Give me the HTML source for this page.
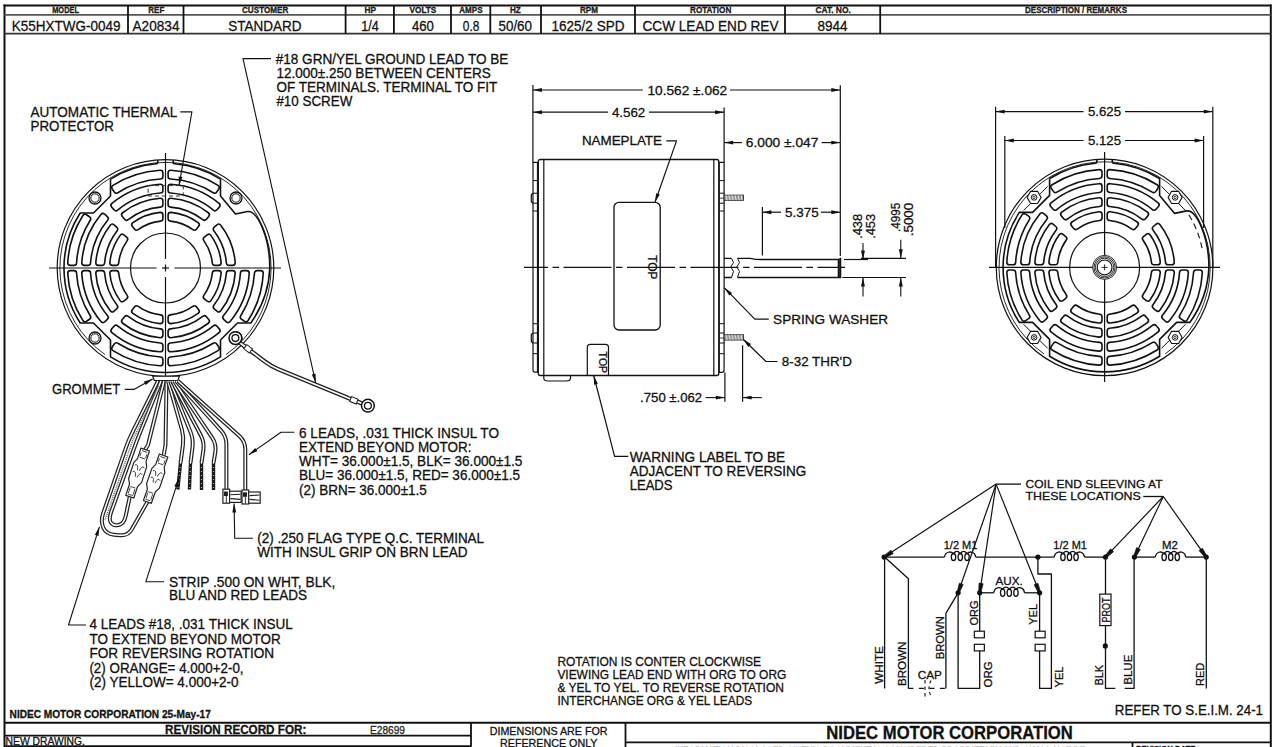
<!DOCTYPE html>
<html><head><meta charset="utf-8"><style>
html,body{margin:0;padding:0;background:#fff;width:1280px;height:747px;overflow:hidden}
svg{display:block}
text{font-family:"Liberation Sans",sans-serif;stroke:#111;stroke-width:0.3px}
</style></head><body>
<svg width="1280" height="747" viewBox="0 0 1280 747">
<rect x="0" y="0" width="1280" height="747" fill="#fff"/>
<line x1="3.50" y1="5.50" x2="1271.50" y2="5.50" stroke="#111" stroke-width="2.0" />
<line x1="4.50" y1="4.50" x2="4.50" y2="747.00" stroke="#111" stroke-width="2.0" />
<line x1="1270.80" y1="4.50" x2="1270.80" y2="747.00" stroke="#111" stroke-width="2.0" />
<line x1="4.50" y1="14.90" x2="1270.80" y2="14.90" stroke="#555" stroke-width="1.6" />
<line x1="4.50" y1="33.70" x2="1270.80" y2="33.70" stroke="#333" stroke-width="1.8" />
<line x1="128.00" y1="5.50" x2="128.00" y2="33.70" stroke="#111" stroke-width="1.8" />
<line x1="183.50" y1="5.50" x2="183.50" y2="33.70" stroke="#111" stroke-width="1.8" />
<line x1="345.60" y1="5.50" x2="345.60" y2="33.70" stroke="#111" stroke-width="1.8" />
<line x1="393.90" y1="5.50" x2="393.90" y2="33.70" stroke="#111" stroke-width="1.8" />
<line x1="451.00" y1="5.50" x2="451.00" y2="33.70" stroke="#111" stroke-width="1.8" />
<line x1="490.30" y1="5.50" x2="490.30" y2="33.70" stroke="#111" stroke-width="1.8" />
<line x1="541.00" y1="5.50" x2="541.00" y2="33.70" stroke="#111" stroke-width="1.8" />
<line x1="635.00" y1="5.50" x2="635.00" y2="33.70" stroke="#111" stroke-width="1.8" />
<line x1="785.00" y1="5.50" x2="785.00" y2="33.70" stroke="#111" stroke-width="1.8" />
<line x1="880.20" y1="5.50" x2="880.20" y2="33.70" stroke="#111" stroke-width="1.8" />
<text x="52.20" y="13.10" font-size="9.2" font-weight="bold" fill="#222" textLength="26.80" lengthAdjust="spacingAndGlyphs" >MODEL</text>
<text x="148.30" y="13.10" font-size="9.2" font-weight="bold" fill="#222" textLength="16.00" lengthAdjust="spacingAndGlyphs" >REF</text>
<text x="242.00" y="13.10" font-size="9.2" font-weight="bold" fill="#222" textLength="46.30" lengthAdjust="spacingAndGlyphs" >CUSTOMER</text>
<text x="364.50" y="13.10" font-size="9.2" font-weight="bold" fill="#222" textLength="11.50" lengthAdjust="spacingAndGlyphs" >HP</text>
<text x="409.50" y="13.10" font-size="9.2" font-weight="bold" fill="#222" textLength="26.80" lengthAdjust="spacingAndGlyphs" >VOLTS</text>
<text x="459.30" y="13.10" font-size="9.2" font-weight="bold" fill="#222" textLength="23.20" lengthAdjust="spacingAndGlyphs" >AMPS</text>
<text x="510.00" y="13.10" font-size="9.2" font-weight="bold" fill="#222" textLength="10.80" lengthAdjust="spacingAndGlyphs" >HZ</text>
<text x="580.00" y="13.10" font-size="9.2" font-weight="bold" fill="#222" textLength="18.00" lengthAdjust="spacingAndGlyphs" >RPM</text>
<text x="690.00" y="13.10" font-size="9.2" font-weight="bold" fill="#222" textLength="41.30" lengthAdjust="spacingAndGlyphs" >ROTATION</text>
<text x="815.50" y="13.10" font-size="9.2" font-weight="bold" fill="#222" textLength="35.30" lengthAdjust="spacingAndGlyphs" >CAT. NO.</text>
<text x="1025.00" y="13.10" font-size="9.2" font-weight="bold" fill="#222" textLength="102.00" lengthAdjust="spacingAndGlyphs" >DESCRIPTION / REMARKS</text>
<text x="11.80" y="30.60" font-size="15.5" font-weight="normal" fill="#111" textLength="108.70" lengthAdjust="spacingAndGlyphs" >K55HXTWG-0049</text>
<text x="132.50" y="30.60" font-size="15.5" font-weight="normal" fill="#111" textLength="47.00" lengthAdjust="spacingAndGlyphs" >A20834</text>
<text x="228.20" y="30.60" font-size="15.5" font-weight="normal" fill="#111" textLength="73.30" lengthAdjust="spacingAndGlyphs" >STANDARD</text>
<text x="361.30" y="30.60" font-size="15.5" font-weight="normal" fill="#111" textLength="17.50" lengthAdjust="spacingAndGlyphs" >1/4</text>
<text x="411.90" y="30.60" font-size="15.5" font-weight="normal" fill="#111" textLength="21.90" lengthAdjust="spacingAndGlyphs" >460</text>
<text x="462.80" y="30.60" font-size="15.5" font-weight="normal" fill="#111" textLength="16.60" lengthAdjust="spacingAndGlyphs" >0.8</text>
<text x="498.50" y="30.60" font-size="15.5" font-weight="normal" fill="#111" textLength="33.50" lengthAdjust="spacingAndGlyphs" >50/60</text>
<text x="551.50" y="30.60" font-size="15.5" font-weight="normal" fill="#111" textLength="73.00" lengthAdjust="spacingAndGlyphs" >1625/2 SPD</text>
<text x="642.50" y="30.60" font-size="15.5" font-weight="normal" fill="#111" textLength="136.00" lengthAdjust="spacingAndGlyphs" >CCW LEAD END REV</text>
<text x="817.50" y="30.60" font-size="15.5" font-weight="normal" fill="#111" textLength="30.00" lengthAdjust="spacingAndGlyphs" >8944</text>
<text x="9.60" y="717.80" font-size="10.8" font-weight="bold" fill="#111" textLength="201.20" lengthAdjust="spacingAndGlyphs" >NIDEC MOTOR CORPORATION 25-May-17</text>
<line x1="4.50" y1="722.70" x2="1270.80" y2="722.70" stroke="#111" stroke-width="2.0" />
<line x1="4.50" y1="735.60" x2="471.00" y2="735.60" stroke="#111" stroke-width="1.8" />
<line x1="4.50" y1="746.20" x2="471.00" y2="746.20" stroke="#111" stroke-width="1.8" />
<line x1="471.00" y1="722.70" x2="471.00" y2="747.00" stroke="#111" stroke-width="1.8" />
<line x1="625.50" y1="722.70" x2="625.50" y2="747.00" stroke="#111" stroke-width="1.8" />
<line x1="625.50" y1="742.30" x2="1270.80" y2="742.30" stroke="#111" stroke-width="1.8" />
<line x1="1132.50" y1="742.30" x2="1132.50" y2="747.00" stroke="#111" stroke-width="1.8" />
<text x="165.00" y="733.80" font-size="12.5" font-weight="bold" fill="#111" textLength="141.30" lengthAdjust="spacingAndGlyphs" >REVISION RECORD FOR:</text>
<text x="370.00" y="733.80" font-size="11" font-weight="normal" fill="#333" textLength="35.00" lengthAdjust="spacingAndGlyphs" >E28699</text>
<text x="5.60" y="744.50" font-size="10.8" font-weight="normal" fill="#111" textLength="79.40" lengthAdjust="spacingAndGlyphs" >NEW DRAWING.</text>
<text x="489.70" y="734.70" font-size="11.5" font-weight="normal" fill="#111" textLength="117.90" lengthAdjust="spacingAndGlyphs" >DIMENSIONS ARE FOR</text>
<text x="500.00" y="746.80" font-size="11.5" font-weight="normal" fill="#111" textLength="97.50" lengthAdjust="spacingAndGlyphs" >REFERENCE ONLY</text>
<text x="826.30" y="738.80" font-size="17.8" font-weight="bold" fill="#111" textLength="246.50" lengthAdjust="spacingAndGlyphs" >NIDEC MOTOR CORPORATION</text>
<text x="1114.80" y="715.20" font-size="14" font-weight="normal" fill="#111" textLength="148.20" lengthAdjust="spacingAndGlyphs" >REFER TO S.E.I.M. 24-1</text>
<text x="675.00" y="753.00" font-size="9" font-weight="bold" fill="#333" textLength="410.00" lengthAdjust="spacingAndGlyphs" >INFORMATION DISCLOSED ON THIS DOCUMENT IS CONSIDERED PROPRIETARY AND SHALL NOT BE</text>
<text x="1136.00" y="751.50" font-size="9" font-weight="bold" fill="#111" textLength="64.00" lengthAdjust="spacingAndGlyphs" >REVISION DATE :</text>
<text x="275.70" y="63.80" font-size="14.2" font-weight="normal" fill="#111" textLength="232.70" lengthAdjust="spacingAndGlyphs" >#18 GRN/YEL GROUND LEAD TO BE</text>
<text x="276.40" y="78.00" font-size="14.2" font-weight="normal" fill="#111" textLength="214.40" lengthAdjust="spacingAndGlyphs" >12.000±.250 BETWEEN CENTERS</text>
<text x="276.40" y="92.20" font-size="14.2" font-weight="normal" fill="#111" textLength="220.80" lengthAdjust="spacingAndGlyphs" >OF TERMINALS. TERMINAL TO FIT</text>
<text x="276.40" y="106.40" font-size="14.2" font-weight="normal" fill="#111" textLength="75.90" lengthAdjust="spacingAndGlyphs" >#10 SCREW</text>
<text x="30.50" y="116.80" font-size="14.2" font-weight="normal" fill="#111" textLength="146.70" lengthAdjust="spacingAndGlyphs" >AUTOMATIC THERMAL</text>
<text x="30.50" y="130.90" font-size="14.2" font-weight="normal" fill="#111" textLength="83.50" lengthAdjust="spacingAndGlyphs" >PROTECTOR</text>
<text x="52.00" y="394.00" font-size="14.2" font-weight="normal" fill="#111" textLength="68.30" lengthAdjust="spacingAndGlyphs" >GROMMET</text>
<text x="299.00" y="438.30" font-size="14.2" font-weight="normal" fill="#111" textLength="200.00" lengthAdjust="spacingAndGlyphs" >6 LEADS, .031 THICK INSUL TO</text>
<text x="299.00" y="452.00" font-size="14.2" font-weight="normal" fill="#111" textLength="172.50" lengthAdjust="spacingAndGlyphs" >EXTEND BEYOND MOTOR:</text>
<text x="299.00" y="466.00" font-size="14.2" font-weight="normal" fill="#111" textLength="223.40" lengthAdjust="spacingAndGlyphs" >WHT= 36.000±1.5, BLK= 36.000±1.5</text>
<text x="299.00" y="480.00" font-size="14.2" font-weight="normal" fill="#111" textLength="221.00" lengthAdjust="spacingAndGlyphs" >BLU= 36.000±1.5, RED= 36.000±1.5</text>
<text x="299.00" y="494.50" font-size="14.2" font-weight="normal" fill="#111" textLength="127.80" lengthAdjust="spacingAndGlyphs" >(2) BRN= 36.000±1.5</text>
<text x="257.20" y="542.50" font-size="14.2" font-weight="normal" fill="#111" textLength="226.90" lengthAdjust="spacingAndGlyphs" >(2) .250 FLAG TYPE Q.C. TERMINAL</text>
<text x="257.20" y="556.70" font-size="14.2" font-weight="normal" fill="#111" textLength="210.50" lengthAdjust="spacingAndGlyphs" >WITH INSUL GRIP ON BRN LEAD</text>
<text x="169.00" y="586.50" font-size="14.2" font-weight="normal" fill="#111" textLength="166.30" lengthAdjust="spacingAndGlyphs" >STRIP .500 ON WHT, BLK,</text>
<text x="169.00" y="600.40" font-size="14.2" font-weight="normal" fill="#111" textLength="138.00" lengthAdjust="spacingAndGlyphs" >BLU AND RED LEADS</text>
<text x="89.40" y="629.00" font-size="14.2" font-weight="normal" fill="#111" textLength="203.40" lengthAdjust="spacingAndGlyphs" >4 LEADS #18, .031 THICK INSUL</text>
<text x="89.40" y="643.80" font-size="14.2" font-weight="normal" fill="#111" textLength="191.40" lengthAdjust="spacingAndGlyphs" >TO EXTEND BEYOND MOTOR</text>
<text x="89.40" y="658.20" font-size="14.2" font-weight="normal" fill="#111" textLength="184.80" lengthAdjust="spacingAndGlyphs" >FOR REVERSING ROTATION</text>
<text x="89.40" y="672.60" font-size="14.2" font-weight="normal" fill="#111" textLength="154.20" lengthAdjust="spacingAndGlyphs" >(2) ORANGE= 4.000+2-0,</text>
<text x="89.40" y="687.00" font-size="14.2" font-weight="normal" fill="#111" textLength="149.20" lengthAdjust="spacingAndGlyphs" >(2) YELLOW= 4.000+2-0</text>
<text x="629.70" y="461.70" font-size="14.2" font-weight="normal" fill="#111" textLength="155.40" lengthAdjust="spacingAndGlyphs" >WARNING LABEL TO BE</text>
<text x="629.70" y="476.10" font-size="14.2" font-weight="normal" fill="#111" textLength="176.60" lengthAdjust="spacingAndGlyphs" >ADJACENT TO REVERSING</text>
<text x="629.70" y="490.40" font-size="14.2" font-weight="normal" fill="#111" textLength="42.80" lengthAdjust="spacingAndGlyphs" >LEADS</text>
<text x="557.40" y="665.60" font-size="12.6" font-weight="normal" fill="#111" textLength="203.60" lengthAdjust="spacingAndGlyphs" >ROTATION IS CONTER CLOCKWISE</text>
<text x="557.40" y="678.80" font-size="12.6" font-weight="normal" fill="#111" textLength="228.90" lengthAdjust="spacingAndGlyphs" >VIEWING LEAD END WITH ORG TO ORG</text>
<text x="557.40" y="692.00" font-size="12.6" font-weight="normal" fill="#111" textLength="226.60" lengthAdjust="spacingAndGlyphs" >&amp; YEL TO YEL. TO REVERSE ROTATION</text>
<text x="557.40" y="705.20" font-size="12.6" font-weight="normal" fill="#111" textLength="194.70" lengthAdjust="spacingAndGlyphs" >INTERCHANGE ORG &amp; YEL LEADS</text>
<text x="647.50" y="95.00" font-size="13.4" font-weight="normal" fill="#111" textLength="79.70" lengthAdjust="spacingAndGlyphs" >10.562 ±.062</text>
<text x="611.90" y="116.90" font-size="13.4" font-weight="normal" fill="#111" textLength="33.40" lengthAdjust="spacingAndGlyphs" >4.562</text>
<text x="581.90" y="145.00" font-size="13.4" font-weight="normal" fill="#111" textLength="80.10" lengthAdjust="spacingAndGlyphs" >NAMEPLATE</text>
<text x="745.80" y="147.30" font-size="13.4" font-weight="normal" fill="#111" textLength="72.60" lengthAdjust="spacingAndGlyphs" >6.000 ±.047</text>
<text x="785.10" y="216.50" font-size="13.4" font-weight="normal" fill="#111" textLength="33.50" lengthAdjust="spacingAndGlyphs" >5.375</text>
<text x="773.10" y="324.00" font-size="13.4" font-weight="normal" fill="#111" textLength="114.90" lengthAdjust="spacingAndGlyphs" >SPRING WASHER</text>
<text x="781.80" y="366.20" font-size="13.4" font-weight="normal" fill="#111" textLength="70.00" lengthAdjust="spacingAndGlyphs" >8-32 THR'D</text>
<text x="640.10" y="402.40" font-size="13.4" font-weight="normal" fill="#111" textLength="62.10" lengthAdjust="spacingAndGlyphs" >.750 ±.062</text>
<text x="1088.00" y="116.10" font-size="13.4" font-weight="normal" fill="#111" textLength="33.00" lengthAdjust="spacingAndGlyphs" >5.625</text>
<text x="1088.00" y="145.40" font-size="13.4" font-weight="normal" fill="#111" textLength="33.00" lengthAdjust="spacingAndGlyphs" >5.125</text>
<text transform="translate(862.10,238.80) rotate(-90)" x="0" y="0" font-size="13.4" font-weight="normal" fill="#111" textLength="24.90" lengthAdjust="spacingAndGlyphs">.438</text>
<text transform="translate(875.00,238.80) rotate(-90)" x="0" y="0" font-size="13.4" font-weight="normal" fill="#111" textLength="24.90" lengthAdjust="spacingAndGlyphs">.453</text>
<text transform="translate(900.00,232.00) rotate(-90)" x="0" y="0" font-size="13.4" font-weight="normal" fill="#111" textLength="29.30" lengthAdjust="spacingAndGlyphs">.4995</text>
<text transform="translate(912.80,236.30) rotate(-90)" x="0" y="0" font-size="13.4" font-weight="normal" fill="#111" textLength="33.60" lengthAdjust="spacingAndGlyphs">.5000</text>
<circle cx="165.50" cy="268.00" r="108.30" fill="none" stroke="#111" stroke-width="1.2" />
<path d="M110.50,179.14 A104.5,104.5 0 0 1 156.30,163.78 Q157.80,163.78 157.80,161.78 L157.80,160.27 M173.20,160.27 L173.20,161.78 Q173.20,163.78 174.70,163.78 A104.5,104.5 0 0 1 220.50,179.14 L220.50,196.00 L235.50,214.00 L247.50,211.50 C257.50,210.00 270.00,238.00 269.80,268.00 A101.5,101.5 0 0 1 250.81,323.00 L237.50,323.00 L220.50,340.00 L220.50,356.86 A104.5,104.5 0 0 1 110.50,356.86 L110.50,340.00 L93.50,323.00 L80.19,323.00 A101.5,101.5 0 0 1 80.19,213.00 L93.50,213.00 L110.50,196.00 L110.50,179.14" fill="none" stroke="#111" stroke-width="1.6" stroke-linejoin="round" />
<path d="M104.93,354.50 A105.6,105.6 0 1 1 226.07,354.50" fill="none" stroke="#111" stroke-width="0.9"/>
<path d="M170.70,172.84 A95.30,95.30 0 0 1 216.62,187.57 L214.60,190.55 A91.70,91.70 0 0 0 170.70,176.45 Z" fill="#fff" stroke="#111" stroke-width="6.8" stroke-linejoin="round"/>
<path d="M170.70,172.84 A95.30,95.30 0 0 1 216.62,187.57 L214.60,190.55 A91.70,91.70 0 0 0 170.70,176.45 Z" fill="#fff" stroke="#fff" stroke-width="3.6" stroke-linejoin="round"/>
<path d="M170.70,186.87 A81.30,81.30 0 0 1 217.40,205.42 L215.01,208.12 A77.70,77.70 0 0 0 170.70,190.47 Z" fill="#fff" stroke="#111" stroke-width="6.8" stroke-linejoin="round"/>
<path d="M170.70,186.87 A81.30,81.30 0 0 1 217.40,205.42 L215.01,208.12 A77.70,77.70 0 0 0 170.70,190.47 Z" fill="#fff" stroke="#fff" stroke-width="3.6" stroke-linejoin="round"/>
<path d="M170.70,200.90 A67.30,67.30 0 0 1 206.74,214.81 L204.42,217.57 A63.70,63.70 0 0 0 170.70,204.51 Z" fill="#fff" stroke="#111" stroke-width="6.8" stroke-linejoin="round"/>
<path d="M170.70,200.90 A67.30,67.30 0 0 1 206.74,214.81 L204.42,217.57 A63.70,63.70 0 0 0 170.70,204.51 Z" fill="#fff" stroke="#fff" stroke-width="3.6" stroke-linejoin="round"/>
<path d="M170.70,214.95 A53.30,53.30 0 0 1 196.61,224.72 L194.36,227.54 A49.70,49.70 0 0 0 170.70,218.57 Z" fill="#fff" stroke="#111" stroke-width="6.8" stroke-linejoin="round"/>
<path d="M170.70,214.95 A53.30,53.30 0 0 1 196.61,224.72 L194.36,227.54 A49.70,49.70 0 0 0 170.70,218.57 Z" fill="#fff" stroke="#fff" stroke-width="3.6" stroke-linejoin="round"/>
<path d="M160.30,172.84 A95.30,95.30 0 0 0 114.38,187.57 L116.40,190.55 A91.70,91.70 0 0 1 160.30,176.45 Z" fill="#fff" stroke="#111" stroke-width="6.8" stroke-linejoin="round"/>
<path d="M160.30,172.84 A95.30,95.30 0 0 0 114.38,187.57 L116.40,190.55 A91.70,91.70 0 0 1 160.30,176.45 Z" fill="#fff" stroke="#fff" stroke-width="3.6" stroke-linejoin="round"/>
<path d="M160.30,186.87 A81.30,81.30 0 0 0 113.60,205.42 L115.99,208.12 A77.70,77.70 0 0 1 160.30,190.47 Z" fill="#fff" stroke="#111" stroke-width="6.8" stroke-linejoin="round"/>
<path d="M160.30,186.87 A81.30,81.30 0 0 0 113.60,205.42 L115.99,208.12 A77.70,77.70 0 0 1 160.30,190.47 Z" fill="#fff" stroke="#fff" stroke-width="3.6" stroke-linejoin="round"/>
<path d="M160.30,200.90 A67.30,67.30 0 0 0 124.26,214.81 L126.58,217.57 A63.70,63.70 0 0 1 160.30,204.51 Z" fill="#fff" stroke="#111" stroke-width="6.8" stroke-linejoin="round"/>
<path d="M160.30,200.90 A67.30,67.30 0 0 0 124.26,214.81 L126.58,217.57 A63.70,63.70 0 0 1 160.30,204.51 Z" fill="#fff" stroke="#fff" stroke-width="3.6" stroke-linejoin="round"/>
<path d="M160.30,214.95 A53.30,53.30 0 0 0 134.39,224.72 L136.64,227.54 A49.70,49.70 0 0 1 160.30,218.57 Z" fill="#fff" stroke="#111" stroke-width="6.8" stroke-linejoin="round"/>
<path d="M160.30,214.95 A53.30,53.30 0 0 0 134.39,224.72 L136.64,227.54 A49.70,49.70 0 0 1 160.30,218.57 Z" fill="#fff" stroke="#fff" stroke-width="3.6" stroke-linejoin="round"/>
<path d="M70.34,262.80 A95.30,95.30 0 0 1 85.07,216.88 L88.05,218.90 A91.70,91.70 0 0 0 73.95,262.80 Z" fill="#fff" stroke="#111" stroke-width="6.8" stroke-linejoin="round"/>
<path d="M70.34,262.80 A95.30,95.30 0 0 1 85.07,216.88 L88.05,218.90 A91.70,91.70 0 0 0 73.95,262.80 Z" fill="#fff" stroke="#fff" stroke-width="3.6" stroke-linejoin="round"/>
<path d="M84.37,262.80 A81.30,81.30 0 0 1 102.92,216.10 L105.62,218.49 A77.70,77.70 0 0 0 87.97,262.80 Z" fill="#fff" stroke="#111" stroke-width="6.8" stroke-linejoin="round"/>
<path d="M84.37,262.80 A81.30,81.30 0 0 1 102.92,216.10 L105.62,218.49 A77.70,77.70 0 0 0 87.97,262.80 Z" fill="#fff" stroke="#fff" stroke-width="3.6" stroke-linejoin="round"/>
<path d="M98.40,262.80 A67.30,67.30 0 0 1 112.31,226.76 L115.07,229.08 A63.70,63.70 0 0 0 102.01,262.80 Z" fill="#fff" stroke="#111" stroke-width="6.8" stroke-linejoin="round"/>
<path d="M98.40,262.80 A67.30,67.30 0 0 1 112.31,226.76 L115.07,229.08 A63.70,63.70 0 0 0 102.01,262.80 Z" fill="#fff" stroke="#fff" stroke-width="3.6" stroke-linejoin="round"/>
<path d="M112.45,262.80 A53.30,53.30 0 0 1 122.22,236.89 L125.04,239.14 A49.70,49.70 0 0 0 116.07,262.80 Z" fill="#fff" stroke="#111" stroke-width="6.8" stroke-linejoin="round"/>
<path d="M112.45,262.80 A53.30,53.30 0 0 1 122.22,236.89 L125.04,239.14 A49.70,49.70 0 0 0 116.07,262.80 Z" fill="#fff" stroke="#fff" stroke-width="3.6" stroke-linejoin="round"/>
<path d="M70.34,273.20 A95.30,95.30 0 0 0 85.07,319.12 L88.05,317.10 A91.70,91.70 0 0 1 73.95,273.20 Z" fill="#fff" stroke="#111" stroke-width="6.8" stroke-linejoin="round"/>
<path d="M70.34,273.20 A95.30,95.30 0 0 0 85.07,319.12 L88.05,317.10 A91.70,91.70 0 0 1 73.95,273.20 Z" fill="#fff" stroke="#fff" stroke-width="3.6" stroke-linejoin="round"/>
<path d="M84.37,273.20 A81.30,81.30 0 0 0 102.92,319.90 L105.62,317.51 A77.70,77.70 0 0 1 87.97,273.20 Z" fill="#fff" stroke="#111" stroke-width="6.8" stroke-linejoin="round"/>
<path d="M84.37,273.20 A81.30,81.30 0 0 0 102.92,319.90 L105.62,317.51 A77.70,77.70 0 0 1 87.97,273.20 Z" fill="#fff" stroke="#fff" stroke-width="3.6" stroke-linejoin="round"/>
<path d="M98.40,273.20 A67.30,67.30 0 0 0 112.31,309.24 L115.07,306.92 A63.70,63.70 0 0 1 102.01,273.20 Z" fill="#fff" stroke="#111" stroke-width="6.8" stroke-linejoin="round"/>
<path d="M98.40,273.20 A67.30,67.30 0 0 0 112.31,309.24 L115.07,306.92 A63.70,63.70 0 0 1 102.01,273.20 Z" fill="#fff" stroke="#fff" stroke-width="3.6" stroke-linejoin="round"/>
<path d="M112.45,273.20 A53.30,53.30 0 0 0 122.22,299.11 L125.04,296.86 A49.70,49.70 0 0 1 116.07,273.20 Z" fill="#fff" stroke="#111" stroke-width="6.8" stroke-linejoin="round"/>
<path d="M112.45,273.20 A53.30,53.30 0 0 0 122.22,299.11 L125.04,296.86 A49.70,49.70 0 0 1 116.07,273.20 Z" fill="#fff" stroke="#fff" stroke-width="3.6" stroke-linejoin="round"/>
<path d="M160.30,363.16 A95.30,95.30 0 0 1 114.38,348.43 L116.40,345.45 A91.70,91.70 0 0 0 160.30,359.55 Z" fill="#fff" stroke="#111" stroke-width="6.8" stroke-linejoin="round"/>
<path d="M160.30,363.16 A95.30,95.30 0 0 1 114.38,348.43 L116.40,345.45 A91.70,91.70 0 0 0 160.30,359.55 Z" fill="#fff" stroke="#fff" stroke-width="3.6" stroke-linejoin="round"/>
<path d="M160.30,349.13 A81.30,81.30 0 0 1 113.60,330.58 L115.99,327.88 A77.70,77.70 0 0 0 160.30,345.53 Z" fill="#fff" stroke="#111" stroke-width="6.8" stroke-linejoin="round"/>
<path d="M160.30,349.13 A81.30,81.30 0 0 1 113.60,330.58 L115.99,327.88 A77.70,77.70 0 0 0 160.30,345.53 Z" fill="#fff" stroke="#fff" stroke-width="3.6" stroke-linejoin="round"/>
<path d="M160.30,335.10 A67.30,67.30 0 0 1 124.26,321.19 L126.58,318.43 A63.70,63.70 0 0 0 160.30,331.49 Z" fill="#fff" stroke="#111" stroke-width="6.8" stroke-linejoin="round"/>
<path d="M160.30,335.10 A67.30,67.30 0 0 1 124.26,321.19 L126.58,318.43 A63.70,63.70 0 0 0 160.30,331.49 Z" fill="#fff" stroke="#fff" stroke-width="3.6" stroke-linejoin="round"/>
<path d="M160.30,321.05 A53.30,53.30 0 0 1 134.39,311.28 L136.64,308.46 A49.70,49.70 0 0 0 160.30,317.43 Z" fill="#fff" stroke="#111" stroke-width="6.8" stroke-linejoin="round"/>
<path d="M160.30,321.05 A53.30,53.30 0 0 1 134.39,311.28 L136.64,308.46 A49.70,49.70 0 0 0 160.30,317.43 Z" fill="#fff" stroke="#fff" stroke-width="3.6" stroke-linejoin="round"/>
<path d="M170.70,363.16 A95.30,95.30 0 0 0 216.62,348.43 L214.60,345.45 A91.70,91.70 0 0 1 170.70,359.55 Z" fill="#fff" stroke="#111" stroke-width="6.8" stroke-linejoin="round"/>
<path d="M170.70,363.16 A95.30,95.30 0 0 0 216.62,348.43 L214.60,345.45 A91.70,91.70 0 0 1 170.70,359.55 Z" fill="#fff" stroke="#fff" stroke-width="3.6" stroke-linejoin="round"/>
<path d="M170.70,349.13 A81.30,81.30 0 0 0 217.40,330.58 L215.01,327.88 A77.70,77.70 0 0 1 170.70,345.53 Z" fill="#fff" stroke="#111" stroke-width="6.8" stroke-linejoin="round"/>
<path d="M170.70,349.13 A81.30,81.30 0 0 0 217.40,330.58 L215.01,327.88 A77.70,77.70 0 0 1 170.70,345.53 Z" fill="#fff" stroke="#fff" stroke-width="3.6" stroke-linejoin="round"/>
<path d="M170.70,335.10 A67.30,67.30 0 0 0 206.74,321.19 L204.42,318.43 A63.70,63.70 0 0 1 170.70,331.49 Z" fill="#fff" stroke="#111" stroke-width="6.8" stroke-linejoin="round"/>
<path d="M170.70,335.10 A67.30,67.30 0 0 0 206.74,321.19 L204.42,318.43 A63.70,63.70 0 0 1 170.70,331.49 Z" fill="#fff" stroke="#fff" stroke-width="3.6" stroke-linejoin="round"/>
<path d="M170.70,321.05 A53.30,53.30 0 0 0 196.61,311.28 L194.36,308.46 A49.70,49.70 0 0 1 170.70,317.43 Z" fill="#fff" stroke="#111" stroke-width="6.8" stroke-linejoin="round"/>
<path d="M170.70,321.05 A53.30,53.30 0 0 0 196.61,311.28 L194.36,308.46 A49.70,49.70 0 0 1 170.70,317.43 Z" fill="#fff" stroke="#fff" stroke-width="3.6" stroke-linejoin="round"/>
<path d="M260.66,273.20 A95.30,95.30 0 0 1 245.93,319.12 L242.95,317.10 A91.70,91.70 0 0 0 257.05,273.20 Z" fill="#fff" stroke="#111" stroke-width="6.8" stroke-linejoin="round"/>
<path d="M260.66,273.20 A95.30,95.30 0 0 1 245.93,319.12 L242.95,317.10 A91.70,91.70 0 0 0 257.05,273.20 Z" fill="#fff" stroke="#fff" stroke-width="3.6" stroke-linejoin="round"/>
<path d="M246.63,273.20 A81.30,81.30 0 0 1 228.08,319.90 L225.38,317.51 A77.70,77.70 0 0 0 243.03,273.20 Z" fill="#fff" stroke="#111" stroke-width="6.8" stroke-linejoin="round"/>
<path d="M246.63,273.20 A81.30,81.30 0 0 1 228.08,319.90 L225.38,317.51 A77.70,77.70 0 0 0 243.03,273.20 Z" fill="#fff" stroke="#fff" stroke-width="3.6" stroke-linejoin="round"/>
<path d="M232.60,273.20 A67.30,67.30 0 0 1 218.69,309.24 L215.93,306.92 A63.70,63.70 0 0 0 228.99,273.20 Z" fill="#fff" stroke="#111" stroke-width="6.8" stroke-linejoin="round"/>
<path d="M232.60,273.20 A67.30,67.30 0 0 1 218.69,309.24 L215.93,306.92 A63.70,63.70 0 0 0 228.99,273.20 Z" fill="#fff" stroke="#fff" stroke-width="3.6" stroke-linejoin="round"/>
<path d="M218.55,273.20 A53.30,53.30 0 0 1 208.78,299.11 L205.96,296.86 A49.70,49.70 0 0 0 214.93,273.20 Z" fill="#fff" stroke="#111" stroke-width="6.8" stroke-linejoin="round"/>
<path d="M218.55,273.20 A53.30,53.30 0 0 1 208.78,299.11 L205.96,296.86 A49.70,49.70 0 0 0 214.93,273.20 Z" fill="#fff" stroke="#fff" stroke-width="3.6" stroke-linejoin="round"/>
<path d="M232.60,262.80 A67.30,67.30 0 0 0 218.69,226.76 L215.93,229.08 A63.70,63.70 0 0 1 228.99,262.80 Z" fill="#fff" stroke="#111" stroke-width="6.8" stroke-linejoin="round"/>
<path d="M232.60,262.80 A67.30,67.30 0 0 0 218.69,226.76 L215.93,229.08 A63.70,63.70 0 0 1 228.99,262.80 Z" fill="#fff" stroke="#fff" stroke-width="3.6" stroke-linejoin="round"/>
<path d="M218.55,262.80 A53.30,53.30 0 0 0 208.78,236.89 L205.96,239.14 A49.70,49.70 0 0 1 214.93,262.80 Z" fill="#fff" stroke="#111" stroke-width="6.8" stroke-linejoin="round"/>
<path d="M218.55,262.80 A53.30,53.30 0 0 0 208.78,236.89 L205.96,239.14 A49.70,49.70 0 0 1 214.93,262.80 Z" fill="#fff" stroke="#fff" stroke-width="3.6" stroke-linejoin="round"/>
<circle cx="165.50" cy="268.00" r="35.00" fill="none" stroke="#111" stroke-width="1.2" />
<circle cx="95.00" cy="198.00" r="6.00" fill="none" stroke="#111" stroke-width="1.3" />
<circle cx="95.00" cy="198.00" r="4.20" fill="none" stroke="#111" stroke-width="1.0" />
<circle cx="95.00" cy="338.00" r="6.00" fill="none" stroke="#111" stroke-width="1.3" />
<circle cx="95.00" cy="338.00" r="4.20" fill="none" stroke="#111" stroke-width="1.0" />
<circle cx="236.00" cy="198.00" r="6.00" fill="none" stroke="#111" stroke-width="1.3" />
<circle cx="236.00" cy="198.00" r="4.20" fill="none" stroke="#111" stroke-width="1.0" />
<circle cx="236.00" cy="338.00" r="6.00" fill="none" stroke="#111" stroke-width="1.3" />
<circle cx="236.00" cy="338.00" r="4.20" fill="none" stroke="#111" stroke-width="1.0" />
<line x1="165.50" y1="153.00" x2="165.50" y2="259.00" stroke="#111" stroke-width="1.2" />
<line x1="165.50" y1="277.00" x2="165.50" y2="382.00" stroke="#111" stroke-width="1.2" />
<line x1="49.00" y1="268.00" x2="156.50" y2="268.00" stroke="#111" stroke-width="1.2" />
<line x1="174.50" y1="268.00" x2="281.00" y2="268.00" stroke="#111" stroke-width="1.2" />
<line x1="162.00" y1="268.00" x2="169.00" y2="268.00" stroke="#111" stroke-width="1.2" />
<line x1="165.50" y1="264.50" x2="165.50" y2="271.50" stroke="#111" stroke-width="1.2" />
<circle cx="1104.60" cy="267.40" r="108.30" fill="none" stroke="#111" stroke-width="1.2" />
<path d="M1049.60,178.54 A104.5,104.5 0 0 1 1095.40,163.18 Q1096.90,163.18 1096.90,161.18 L1096.90,159.67 M1112.30,159.67 L1112.30,161.18 Q1112.30,163.18 1113.80,163.18 A104.5,104.5 0 0 1 1159.60,178.54 L1159.60,195.40 L1174.60,213.40 L1186.60,210.90 C1196.60,209.40 1209.10,237.40 1208.90,267.40 A101.5,101.5 0 0 1 1189.91,322.40 L1176.60,322.40 L1159.60,339.40 L1159.60,356.26 A104.5,104.5 0 0 1 1049.60,356.26 L1049.60,339.40 L1032.60,322.40 L1019.29,322.40 A101.5,101.5 0 0 1 1019.29,212.40 L1032.60,212.40 L1049.60,195.40 L1049.60,178.54" fill="none" stroke="#111" stroke-width="1.6" stroke-linejoin="round" />
<path d="M1044.03,353.90 A105.6,105.6 0 1 1 1165.17,353.90" fill="none" stroke="#111" stroke-width="0.9"/>
<path d="M1188.81,214.78 A99.3,99.3 0 0 1 1202.39,250.16" fill="none" stroke="#111" stroke-width="1.1" stroke-dasharray="6 4"/>
<path d="M1109.80,172.24 A95.30,95.30 0 0 1 1155.72,186.97 L1153.70,189.95 A91.70,91.70 0 0 0 1109.80,175.85 Z" fill="#fff" stroke="#111" stroke-width="6.8" stroke-linejoin="round"/>
<path d="M1109.80,172.24 A95.30,95.30 0 0 1 1155.72,186.97 L1153.70,189.95 A91.70,91.70 0 0 0 1109.80,175.85 Z" fill="#fff" stroke="#fff" stroke-width="3.6" stroke-linejoin="round"/>
<path d="M1109.80,186.27 A81.30,81.30 0 0 1 1156.50,204.82 L1154.11,207.52 A77.70,77.70 0 0 0 1109.80,189.87 Z" fill="#fff" stroke="#111" stroke-width="6.8" stroke-linejoin="round"/>
<path d="M1109.80,186.27 A81.30,81.30 0 0 1 1156.50,204.82 L1154.11,207.52 A77.70,77.70 0 0 0 1109.80,189.87 Z" fill="#fff" stroke="#fff" stroke-width="3.6" stroke-linejoin="round"/>
<path d="M1109.80,200.30 A67.30,67.30 0 0 1 1145.84,214.21 L1143.52,216.97 A63.70,63.70 0 0 0 1109.80,203.91 Z" fill="#fff" stroke="#111" stroke-width="6.8" stroke-linejoin="round"/>
<path d="M1109.80,200.30 A67.30,67.30 0 0 1 1145.84,214.21 L1143.52,216.97 A63.70,63.70 0 0 0 1109.80,203.91 Z" fill="#fff" stroke="#fff" stroke-width="3.6" stroke-linejoin="round"/>
<path d="M1109.80,214.35 A53.30,53.30 0 0 1 1135.71,224.12 L1133.46,226.94 A49.70,49.70 0 0 0 1109.80,217.97 Z" fill="#fff" stroke="#111" stroke-width="6.8" stroke-linejoin="round"/>
<path d="M1109.80,214.35 A53.30,53.30 0 0 1 1135.71,224.12 L1133.46,226.94 A49.70,49.70 0 0 0 1109.80,217.97 Z" fill="#fff" stroke="#fff" stroke-width="3.6" stroke-linejoin="round"/>
<path d="M1099.40,172.24 A95.30,95.30 0 0 0 1053.48,186.97 L1055.50,189.95 A91.70,91.70 0 0 1 1099.40,175.85 Z" fill="#fff" stroke="#111" stroke-width="6.8" stroke-linejoin="round"/>
<path d="M1099.40,172.24 A95.30,95.30 0 0 0 1053.48,186.97 L1055.50,189.95 A91.70,91.70 0 0 1 1099.40,175.85 Z" fill="#fff" stroke="#fff" stroke-width="3.6" stroke-linejoin="round"/>
<path d="M1099.40,186.27 A81.30,81.30 0 0 0 1052.70,204.82 L1055.09,207.52 A77.70,77.70 0 0 1 1099.40,189.87 Z" fill="#fff" stroke="#111" stroke-width="6.8" stroke-linejoin="round"/>
<path d="M1099.40,186.27 A81.30,81.30 0 0 0 1052.70,204.82 L1055.09,207.52 A77.70,77.70 0 0 1 1099.40,189.87 Z" fill="#fff" stroke="#fff" stroke-width="3.6" stroke-linejoin="round"/>
<path d="M1099.40,200.30 A67.30,67.30 0 0 0 1063.36,214.21 L1065.68,216.97 A63.70,63.70 0 0 1 1099.40,203.91 Z" fill="#fff" stroke="#111" stroke-width="6.8" stroke-linejoin="round"/>
<path d="M1099.40,200.30 A67.30,67.30 0 0 0 1063.36,214.21 L1065.68,216.97 A63.70,63.70 0 0 1 1099.40,203.91 Z" fill="#fff" stroke="#fff" stroke-width="3.6" stroke-linejoin="round"/>
<path d="M1099.40,214.35 A53.30,53.30 0 0 0 1073.49,224.12 L1075.74,226.94 A49.70,49.70 0 0 1 1099.40,217.97 Z" fill="#fff" stroke="#111" stroke-width="6.8" stroke-linejoin="round"/>
<path d="M1099.40,214.35 A53.30,53.30 0 0 0 1073.49,224.12 L1075.74,226.94 A49.70,49.70 0 0 1 1099.40,217.97 Z" fill="#fff" stroke="#fff" stroke-width="3.6" stroke-linejoin="round"/>
<path d="M1009.44,262.20 A95.30,95.30 0 0 1 1024.17,216.28 L1027.15,218.30 A91.70,91.70 0 0 0 1013.05,262.20 Z" fill="#fff" stroke="#111" stroke-width="6.8" stroke-linejoin="round"/>
<path d="M1009.44,262.20 A95.30,95.30 0 0 1 1024.17,216.28 L1027.15,218.30 A91.70,91.70 0 0 0 1013.05,262.20 Z" fill="#fff" stroke="#fff" stroke-width="3.6" stroke-linejoin="round"/>
<path d="M1023.47,262.20 A81.30,81.30 0 0 1 1042.02,215.50 L1044.72,217.89 A77.70,77.70 0 0 0 1027.07,262.20 Z" fill="#fff" stroke="#111" stroke-width="6.8" stroke-linejoin="round"/>
<path d="M1023.47,262.20 A81.30,81.30 0 0 1 1042.02,215.50 L1044.72,217.89 A77.70,77.70 0 0 0 1027.07,262.20 Z" fill="#fff" stroke="#fff" stroke-width="3.6" stroke-linejoin="round"/>
<path d="M1037.50,262.20 A67.30,67.30 0 0 1 1051.41,226.16 L1054.17,228.48 A63.70,63.70 0 0 0 1041.11,262.20 Z" fill="#fff" stroke="#111" stroke-width="6.8" stroke-linejoin="round"/>
<path d="M1037.50,262.20 A67.30,67.30 0 0 1 1051.41,226.16 L1054.17,228.48 A63.70,63.70 0 0 0 1041.11,262.20 Z" fill="#fff" stroke="#fff" stroke-width="3.6" stroke-linejoin="round"/>
<path d="M1051.55,262.20 A53.30,53.30 0 0 1 1061.32,236.29 L1064.14,238.54 A49.70,49.70 0 0 0 1055.17,262.20 Z" fill="#fff" stroke="#111" stroke-width="6.8" stroke-linejoin="round"/>
<path d="M1051.55,262.20 A53.30,53.30 0 0 1 1061.32,236.29 L1064.14,238.54 A49.70,49.70 0 0 0 1055.17,262.20 Z" fill="#fff" stroke="#fff" stroke-width="3.6" stroke-linejoin="round"/>
<path d="M1009.44,272.60 A95.30,95.30 0 0 0 1024.17,318.52 L1027.15,316.50 A91.70,91.70 0 0 1 1013.05,272.60 Z" fill="#fff" stroke="#111" stroke-width="6.8" stroke-linejoin="round"/>
<path d="M1009.44,272.60 A95.30,95.30 0 0 0 1024.17,318.52 L1027.15,316.50 A91.70,91.70 0 0 1 1013.05,272.60 Z" fill="#fff" stroke="#fff" stroke-width="3.6" stroke-linejoin="round"/>
<path d="M1023.47,272.60 A81.30,81.30 0 0 0 1042.02,319.30 L1044.72,316.91 A77.70,77.70 0 0 1 1027.07,272.60 Z" fill="#fff" stroke="#111" stroke-width="6.8" stroke-linejoin="round"/>
<path d="M1023.47,272.60 A81.30,81.30 0 0 0 1042.02,319.30 L1044.72,316.91 A77.70,77.70 0 0 1 1027.07,272.60 Z" fill="#fff" stroke="#fff" stroke-width="3.6" stroke-linejoin="round"/>
<path d="M1037.50,272.60 A67.30,67.30 0 0 0 1051.41,308.64 L1054.17,306.32 A63.70,63.70 0 0 1 1041.11,272.60 Z" fill="#fff" stroke="#111" stroke-width="6.8" stroke-linejoin="round"/>
<path d="M1037.50,272.60 A67.30,67.30 0 0 0 1051.41,308.64 L1054.17,306.32 A63.70,63.70 0 0 1 1041.11,272.60 Z" fill="#fff" stroke="#fff" stroke-width="3.6" stroke-linejoin="round"/>
<path d="M1051.55,272.60 A53.30,53.30 0 0 0 1061.32,298.51 L1064.14,296.26 A49.70,49.70 0 0 1 1055.17,272.60 Z" fill="#fff" stroke="#111" stroke-width="6.8" stroke-linejoin="round"/>
<path d="M1051.55,272.60 A53.30,53.30 0 0 0 1061.32,298.51 L1064.14,296.26 A49.70,49.70 0 0 1 1055.17,272.60 Z" fill="#fff" stroke="#fff" stroke-width="3.6" stroke-linejoin="round"/>
<path d="M1099.40,362.56 A95.30,95.30 0 0 1 1053.48,347.83 L1055.50,344.85 A91.70,91.70 0 0 0 1099.40,358.95 Z" fill="#fff" stroke="#111" stroke-width="6.8" stroke-linejoin="round"/>
<path d="M1099.40,362.56 A95.30,95.30 0 0 1 1053.48,347.83 L1055.50,344.85 A91.70,91.70 0 0 0 1099.40,358.95 Z" fill="#fff" stroke="#fff" stroke-width="3.6" stroke-linejoin="round"/>
<path d="M1099.40,348.53 A81.30,81.30 0 0 1 1052.70,329.98 L1055.09,327.28 A77.70,77.70 0 0 0 1099.40,344.93 Z" fill="#fff" stroke="#111" stroke-width="6.8" stroke-linejoin="round"/>
<path d="M1099.40,348.53 A81.30,81.30 0 0 1 1052.70,329.98 L1055.09,327.28 A77.70,77.70 0 0 0 1099.40,344.93 Z" fill="#fff" stroke="#fff" stroke-width="3.6" stroke-linejoin="round"/>
<path d="M1099.40,334.50 A67.30,67.30 0 0 1 1063.36,320.59 L1065.68,317.83 A63.70,63.70 0 0 0 1099.40,330.89 Z" fill="#fff" stroke="#111" stroke-width="6.8" stroke-linejoin="round"/>
<path d="M1099.40,334.50 A67.30,67.30 0 0 1 1063.36,320.59 L1065.68,317.83 A63.70,63.70 0 0 0 1099.40,330.89 Z" fill="#fff" stroke="#fff" stroke-width="3.6" stroke-linejoin="round"/>
<path d="M1099.40,320.45 A53.30,53.30 0 0 1 1073.49,310.68 L1075.74,307.86 A49.70,49.70 0 0 0 1099.40,316.83 Z" fill="#fff" stroke="#111" stroke-width="6.8" stroke-linejoin="round"/>
<path d="M1099.40,320.45 A53.30,53.30 0 0 1 1073.49,310.68 L1075.74,307.86 A49.70,49.70 0 0 0 1099.40,316.83 Z" fill="#fff" stroke="#fff" stroke-width="3.6" stroke-linejoin="round"/>
<path d="M1109.80,362.56 A95.30,95.30 0 0 0 1155.72,347.83 L1153.70,344.85 A91.70,91.70 0 0 1 1109.80,358.95 Z" fill="#fff" stroke="#111" stroke-width="6.8" stroke-linejoin="round"/>
<path d="M1109.80,362.56 A95.30,95.30 0 0 0 1155.72,347.83 L1153.70,344.85 A91.70,91.70 0 0 1 1109.80,358.95 Z" fill="#fff" stroke="#fff" stroke-width="3.6" stroke-linejoin="round"/>
<path d="M1109.80,348.53 A81.30,81.30 0 0 0 1156.50,329.98 L1154.11,327.28 A77.70,77.70 0 0 1 1109.80,344.93 Z" fill="#fff" stroke="#111" stroke-width="6.8" stroke-linejoin="round"/>
<path d="M1109.80,348.53 A81.30,81.30 0 0 0 1156.50,329.98 L1154.11,327.28 A77.70,77.70 0 0 1 1109.80,344.93 Z" fill="#fff" stroke="#fff" stroke-width="3.6" stroke-linejoin="round"/>
<path d="M1109.80,334.50 A67.30,67.30 0 0 0 1145.84,320.59 L1143.52,317.83 A63.70,63.70 0 0 1 1109.80,330.89 Z" fill="#fff" stroke="#111" stroke-width="6.8" stroke-linejoin="round"/>
<path d="M1109.80,334.50 A67.30,67.30 0 0 0 1145.84,320.59 L1143.52,317.83 A63.70,63.70 0 0 1 1109.80,330.89 Z" fill="#fff" stroke="#fff" stroke-width="3.6" stroke-linejoin="round"/>
<path d="M1109.80,320.45 A53.30,53.30 0 0 0 1135.71,310.68 L1133.46,307.86 A49.70,49.70 0 0 1 1109.80,316.83 Z" fill="#fff" stroke="#111" stroke-width="6.8" stroke-linejoin="round"/>
<path d="M1109.80,320.45 A53.30,53.30 0 0 0 1135.71,310.68 L1133.46,307.86 A49.70,49.70 0 0 1 1109.80,316.83 Z" fill="#fff" stroke="#fff" stroke-width="3.6" stroke-linejoin="round"/>
<path d="M1199.76,272.60 A95.30,95.30 0 0 1 1185.03,318.52 L1182.05,316.50 A91.70,91.70 0 0 0 1196.15,272.60 Z" fill="#fff" stroke="#111" stroke-width="6.8" stroke-linejoin="round"/>
<path d="M1199.76,272.60 A95.30,95.30 0 0 1 1185.03,318.52 L1182.05,316.50 A91.70,91.70 0 0 0 1196.15,272.60 Z" fill="#fff" stroke="#fff" stroke-width="3.6" stroke-linejoin="round"/>
<path d="M1185.73,272.60 A81.30,81.30 0 0 1 1167.18,319.30 L1164.48,316.91 A77.70,77.70 0 0 0 1182.13,272.60 Z" fill="#fff" stroke="#111" stroke-width="6.8" stroke-linejoin="round"/>
<path d="M1185.73,272.60 A81.30,81.30 0 0 1 1167.18,319.30 L1164.48,316.91 A77.70,77.70 0 0 0 1182.13,272.60 Z" fill="#fff" stroke="#fff" stroke-width="3.6" stroke-linejoin="round"/>
<path d="M1171.70,272.60 A67.30,67.30 0 0 1 1157.79,308.64 L1155.03,306.32 A63.70,63.70 0 0 0 1168.09,272.60 Z" fill="#fff" stroke="#111" stroke-width="6.8" stroke-linejoin="round"/>
<path d="M1171.70,272.60 A67.30,67.30 0 0 1 1157.79,308.64 L1155.03,306.32 A63.70,63.70 0 0 0 1168.09,272.60 Z" fill="#fff" stroke="#fff" stroke-width="3.6" stroke-linejoin="round"/>
<path d="M1157.65,272.60 A53.30,53.30 0 0 1 1147.88,298.51 L1145.06,296.26 A49.70,49.70 0 0 0 1154.03,272.60 Z" fill="#fff" stroke="#111" stroke-width="6.8" stroke-linejoin="round"/>
<path d="M1157.65,272.60 A53.30,53.30 0 0 1 1147.88,298.51 L1145.06,296.26 A49.70,49.70 0 0 0 1154.03,272.60 Z" fill="#fff" stroke="#fff" stroke-width="3.6" stroke-linejoin="round"/>
<path d="M1171.70,262.20 A67.30,67.30 0 0 0 1157.79,226.16 L1155.03,228.48 A63.70,63.70 0 0 1 1168.09,262.20 Z" fill="#fff" stroke="#111" stroke-width="6.8" stroke-linejoin="round"/>
<path d="M1171.70,262.20 A67.30,67.30 0 0 0 1157.79,226.16 L1155.03,228.48 A63.70,63.70 0 0 1 1168.09,262.20 Z" fill="#fff" stroke="#fff" stroke-width="3.6" stroke-linejoin="round"/>
<path d="M1157.65,262.20 A53.30,53.30 0 0 0 1147.88,236.29 L1145.06,238.54 A49.70,49.70 0 0 1 1154.03,262.20 Z" fill="#fff" stroke="#111" stroke-width="6.8" stroke-linejoin="round"/>
<path d="M1157.65,262.20 A53.30,53.30 0 0 0 1147.88,236.29 L1145.06,238.54 A49.70,49.70 0 0 1 1154.03,262.20 Z" fill="#fff" stroke="#fff" stroke-width="3.6" stroke-linejoin="round"/>
<circle cx="1104.60" cy="267.40" r="35.00" fill="none" stroke="#111" stroke-width="1.2" />
<line x1="1047.68" y1="186.44" x2="1023.64" y2="210.48" stroke="#111" stroke-width="1.0" />
<polygon points="1041.10,197.40 1037.60,203.46 1030.60,203.46 1027.10,197.40 1030.60,191.34 1037.60,191.34" fill="#fff" stroke="#111" stroke-width="1.1"/>
<circle cx="1034.10" cy="197.40" r="2.80" fill="none" stroke="#111" stroke-width="1.0" />
<circle cx="1034.10" cy="197.40" r="1.20" fill="none" stroke="#111" stroke-width="0.8" />
<line x1="1023.64" y1="324.32" x2="1047.68" y2="348.36" stroke="#111" stroke-width="1.0" />
<polygon points="1041.10,337.40 1037.60,343.46 1030.60,343.46 1027.10,337.40 1030.60,331.34 1037.60,331.34" fill="#fff" stroke="#111" stroke-width="1.1"/>
<circle cx="1034.10" cy="337.40" r="2.80" fill="none" stroke="#111" stroke-width="1.0" />
<circle cx="1034.10" cy="337.40" r="1.20" fill="none" stroke="#111" stroke-width="0.8" />
<line x1="1185.56" y1="210.48" x2="1161.52" y2="186.44" stroke="#111" stroke-width="1.0" />
<polygon points="1182.10,197.40 1178.60,203.46 1171.60,203.46 1168.10,197.40 1171.60,191.34 1178.60,191.34" fill="#fff" stroke="#111" stroke-width="1.1"/>
<circle cx="1175.10" cy="197.40" r="2.80" fill="none" stroke="#111" stroke-width="1.0" />
<circle cx="1175.10" cy="197.40" r="1.20" fill="none" stroke="#111" stroke-width="0.8" />
<line x1="1161.52" y1="348.36" x2="1185.56" y2="324.32" stroke="#111" stroke-width="1.0" />
<polygon points="1182.10,337.40 1178.60,343.46 1171.60,343.46 1168.10,337.40 1171.60,331.34 1178.60,331.34" fill="#fff" stroke="#111" stroke-width="1.1"/>
<circle cx="1175.10" cy="337.40" r="2.80" fill="none" stroke="#111" stroke-width="1.0" />
<circle cx="1175.10" cy="337.40" r="1.20" fill="none" stroke="#111" stroke-width="0.8" />
<line x1="1104.60" y1="152.00" x2="1104.60" y2="255.40" stroke="#111" stroke-width="1.2" />
<line x1="1104.60" y1="279.40" x2="1104.60" y2="382.00" stroke="#111" stroke-width="1.2" />
<line x1="989.00" y1="267.40" x2="1092.60" y2="267.40" stroke="#111" stroke-width="1.2" />
<line x1="1116.60" y1="267.40" x2="1220.00" y2="267.40" stroke="#111" stroke-width="1.2" />
<circle cx="1104.60" cy="267.40" r="12.00" fill="none" stroke="#111" stroke-width="0.9" />
<circle cx="1104.60" cy="267.40" r="10.60" fill="none" stroke="#111" stroke-width="0.9" />
<circle cx="1104.60" cy="267.40" r="9.20" fill="none" stroke="#111" stroke-width="0.9" />
<circle cx="1104.60" cy="267.40" r="7.40" fill="none" stroke="#111" stroke-width="1.2" />
<line x1="1101.60" y1="267.40" x2="1107.60" y2="267.40" stroke="#111" stroke-width="0.9" />
<line x1="1104.60" y1="264.40" x2="1104.60" y2="270.40" stroke="#111" stroke-width="0.9" />
<line x1="532.90" y1="85.00" x2="532.90" y2="162.40" stroke="#111" stroke-width="1.2" />
<line x1="724.10" y1="107.50" x2="724.10" y2="162.30" stroke="#111" stroke-width="1.2" />
<line x1="840.30" y1="85.20" x2="840.30" y2="256.00" stroke="#111" stroke-width="1.2" />
<line x1="532.90" y1="90.00" x2="642.80" y2="90.00" stroke="#111" stroke-width="1.2" />
<line x1="730.00" y1="90.00" x2="840.30" y2="90.00" stroke="#111" stroke-width="1.2" />
<path d="M532.90,90.00 L541.90,88.05 L541.90,91.95 Z" fill="#111" stroke="none"/>
<path d="M840.30,90.00 L831.30,91.95 L831.30,88.05 Z" fill="#111" stroke="none"/>
<line x1="532.90" y1="112.20" x2="608.00" y2="112.20" stroke="#111" stroke-width="1.2" />
<line x1="649.00" y1="112.20" x2="724.10" y2="112.20" stroke="#111" stroke-width="1.2" />
<path d="M532.90,112.20 L541.90,110.25 L541.90,114.15 Z" fill="#111" stroke="none"/>
<path d="M724.10,112.20 L715.10,114.15 L715.10,110.25 Z" fill="#111" stroke="none"/>
<line x1="724.10" y1="142.60" x2="741.90" y2="142.60" stroke="#111" stroke-width="1.2" />
<line x1="821.60" y1="142.60" x2="840.30" y2="142.60" stroke="#111" stroke-width="1.2" />
<path d="M724.10,142.60 L733.10,140.65 L733.10,144.55 Z" fill="#111" stroke="none"/>
<path d="M840.30,142.60 L831.30,144.55 L831.30,140.65 Z" fill="#111" stroke="none"/>
<line x1="762.40" y1="207.00" x2="762.40" y2="255.50" stroke="#111" stroke-width="1.2" />
<line x1="762.40" y1="212.20" x2="781.00" y2="212.20" stroke="#111" stroke-width="1.2" />
<line x1="821.00" y1="212.20" x2="840.30" y2="212.20" stroke="#111" stroke-width="1.2" />
<path d="M762.40,212.20 L771.40,210.25 L771.40,214.15 Z" fill="#111" stroke="none"/>
<path d="M840.30,212.20 L831.30,214.15 L831.30,210.25 Z" fill="#111" stroke="none"/>
<line x1="844.00" y1="259.50" x2="868.00" y2="259.50" stroke="#111" stroke-width="1.2" />
<line x1="861.00" y1="258.30" x2="906.00" y2="258.30" stroke="#111" stroke-width="1.2" />
<line x1="842.30" y1="277.50" x2="906.00" y2="277.50" stroke="#111" stroke-width="1.2" />
<line x1="863.00" y1="243.00" x2="863.00" y2="259.50" stroke="#111" stroke-width="1.1" />
<path d="M863.00,259.50 L861.05,250.50 L864.95,250.50 Z" fill="#111" stroke="none"/>
<line x1="863.00" y1="277.50" x2="863.00" y2="296.40" stroke="#111" stroke-width="1.1" />
<path d="M863.00,277.50 L864.95,286.50 L861.05,286.50 Z" fill="#111" stroke="none"/>
<line x1="900.80" y1="239.70" x2="900.80" y2="258.30" stroke="#111" stroke-width="1.1" />
<path d="M900.80,258.30 L898.85,249.30 L902.75,249.30 Z" fill="#111" stroke="none"/>
<line x1="900.80" y1="277.50" x2="900.80" y2="296.40" stroke="#111" stroke-width="1.1" />
<path d="M900.80,277.50 L902.75,286.50 L898.85,286.50 Z" fill="#111" stroke="none"/>
<line x1="724.90" y1="372.50" x2="724.90" y2="401.80" stroke="#111" stroke-width="1.2" />
<line x1="742.60" y1="345.30" x2="742.60" y2="401.80" stroke="#111" stroke-width="1.2" />
<line x1="705.60" y1="397.60" x2="724.90" y2="397.60" stroke="#111" stroke-width="1.1" />
<path d="M724.90,397.60 L715.90,399.55 L715.90,395.65 Z" fill="#111" stroke="none"/>
<line x1="742.60" y1="397.60" x2="761.80" y2="397.60" stroke="#111" stroke-width="1.1" />
<path d="M742.60,397.60 L751.60,395.65 L751.60,399.55 Z" fill="#111" stroke="none"/>
<path d="M538.3,161.5 Q538.3,159.5 540.3,159.5 L716.8,159.5 Q718.8,159.5 718.8,161.5 L718.8,373.5 Q718.8,375.5 716.8,375.5 L540.3,375.5 Q538.3,375.5 538.3,373.5 Z" fill="none" stroke="#111" stroke-width="1.3" stroke-linejoin="round" />
<line x1="543.80" y1="159.50" x2="543.80" y2="375.50" stroke="#111" stroke-width="1.2" />
<line x1="713.80" y1="159.50" x2="713.80" y2="375.50" stroke="#111" stroke-width="1.2" />
<path d="M533,162.4 L537.5,162.4 L537.5,372.2 L535,372.2 Q533,372.2 533,370 Z" fill="none" stroke="#111" stroke-width="1.2" stroke-linejoin="round" />
<path d="M719.2,162.3 L724.1,162.3 L724.1,370 Q724.1,372.3 721.8,372.3 L719.2,372.3 Z" fill="none" stroke="#111" stroke-width="1.2" stroke-linejoin="round" />
<line x1="533.00" y1="180.60" x2="537.50" y2="180.60" stroke="#111" stroke-width="1.0" />
<line x1="719.20" y1="180.60" x2="724.10" y2="180.60" stroke="#111" stroke-width="1.0" />
<line x1="533.00" y1="211.00" x2="537.50" y2="211.00" stroke="#111" stroke-width="1.0" />
<line x1="719.20" y1="211.00" x2="724.10" y2="211.00" stroke="#111" stroke-width="1.0" />
<line x1="533.00" y1="323.70" x2="537.50" y2="323.70" stroke="#111" stroke-width="1.0" />
<line x1="719.20" y1="323.70" x2="724.10" y2="323.70" stroke="#111" stroke-width="1.0" />
<line x1="533.00" y1="353.70" x2="537.50" y2="353.70" stroke="#111" stroke-width="1.0" />
<line x1="719.20" y1="353.70" x2="724.10" y2="353.70" stroke="#111" stroke-width="1.0" />
<path d="M533,193.2 L531.3,194.7 L531.3,201.7 L533,203.2" fill="none" stroke="#111" stroke-width="1.2" stroke-linejoin="round" />
<line x1="533.00" y1="193.20" x2="537.50" y2="193.20" stroke="#111" stroke-width="1.0" />
<line x1="533.00" y1="203.20" x2="537.50" y2="203.20" stroke="#111" stroke-width="1.0" />
<line x1="719.20" y1="193.20" x2="724.10" y2="193.20" stroke="#111" stroke-width="1.0" />
<line x1="719.20" y1="203.20" x2="724.10" y2="203.20" stroke="#111" stroke-width="1.0" />
<line x1="719.20" y1="198.20" x2="724.10" y2="198.20" stroke="#111" stroke-width="0.8" />
<path d="M533,333.0 L531.3,334.5 L531.3,341.5 L533,343.0" fill="none" stroke="#111" stroke-width="1.2" stroke-linejoin="round" />
<line x1="533.00" y1="333.00" x2="537.50" y2="333.00" stroke="#111" stroke-width="1.0" />
<line x1="533.00" y1="343.00" x2="537.50" y2="343.00" stroke="#111" stroke-width="1.0" />
<line x1="719.20" y1="333.00" x2="724.10" y2="333.00" stroke="#111" stroke-width="1.0" />
<line x1="719.20" y1="343.00" x2="724.10" y2="343.00" stroke="#111" stroke-width="1.0" />
<line x1="719.20" y1="338.00" x2="724.10" y2="338.00" stroke="#111" stroke-width="0.8" />
<rect x="724.1" y="195.1" width="19.4" height="5.4" fill="#999" stroke="#333" stroke-width="0.9"/>
<line x1="726.0" y1="195.1" x2="727.2" y2="200.5" stroke="#fff" stroke-width="0.7"/>
<line x1="729.0" y1="195.1" x2="730.2" y2="200.5" stroke="#fff" stroke-width="0.7"/>
<line x1="732.0" y1="195.1" x2="733.2" y2="200.5" stroke="#fff" stroke-width="0.7"/>
<line x1="735.0" y1="195.1" x2="736.2" y2="200.5" stroke="#fff" stroke-width="0.7"/>
<line x1="738.0" y1="195.1" x2="739.2" y2="200.5" stroke="#fff" stroke-width="0.7"/>
<line x1="741.0" y1="195.1" x2="742.2" y2="200.5" stroke="#fff" stroke-width="0.7"/>
<rect x="724.1" y="334.7" width="19.4" height="5.4" fill="#999" stroke="#333" stroke-width="0.9"/>
<line x1="726.0" y1="334.7" x2="727.2" y2="340.1" stroke="#fff" stroke-width="0.7"/>
<line x1="729.0" y1="334.7" x2="730.2" y2="340.1" stroke="#fff" stroke-width="0.7"/>
<line x1="732.0" y1="334.7" x2="733.2" y2="340.1" stroke="#fff" stroke-width="0.7"/>
<line x1="735.0" y1="334.7" x2="736.2" y2="340.1" stroke="#fff" stroke-width="0.7"/>
<line x1="738.0" y1="334.7" x2="739.2" y2="340.1" stroke="#fff" stroke-width="0.7"/>
<line x1="741.0" y1="334.7" x2="742.2" y2="340.1" stroke="#fff" stroke-width="0.7"/>
<rect x="614" y="202.3" width="46.2" height="127.7" rx="5" ry="5" fill="none" stroke="#111" stroke-width="1.3"/>
<text transform="translate(647.90,255.20) rotate(90)" x="0" y="0" font-size="12" font-weight="normal" fill="#111" textLength="24.40" lengthAdjust="spacingAndGlyphs">TOP</text>
<path d="M587.3,375.5 L587.3,347.3 Q587.3,344.3 590.3,344.3 L605.5,344.3 Q608.5,344.3 608.5,347.3 L608.5,375.5" fill="none" stroke="#111" stroke-width="1.2" stroke-linejoin="round" />
<text transform="translate(598.80,351.60) rotate(90)" x="0" y="0" font-size="11" font-weight="normal" fill="#111" textLength="21.60" lengthAdjust="spacingAndGlyphs">TOP</text>
<path d="M543.8,375.5 L543.8,378.5 Q544,381 548,381 L566,381 Q570.5,381 570.5,378 L570.5,375.5" fill="none" stroke="#111" stroke-width="1.2" stroke-linejoin="round" />
<path d="M724.1,258.3 L731.5,258.3 M737.5,258.3 L750.4,258.3 Q755,259.5 761.6,259.5 L838.6,259.5 L840.6,258.3 L840.6,277.5 L737.5,277.5 M731.5,277.5 L724.1,277.5" fill="none" stroke="#111" stroke-width="1.3" stroke-linejoin="round" />
<path d="M731.5,258.3 L733.5,262.5 L730.8,267 L733.5,271.5 L731.5,277.5" fill="none" stroke="#111" stroke-width="1.0" stroke-linejoin="round" />
<path d="M737.5,258.3 L739.5,262.5 L736.8,267 L739.5,271.5 L737.5,277.5" fill="none" stroke="#111" stroke-width="1.0" stroke-linejoin="round" />
<line x1="838.80" y1="259.50" x2="838.80" y2="277.50" stroke="#111" stroke-width="2.2" />
<line x1="524.00" y1="267.40" x2="845.00" y2="267.40" stroke="#111" stroke-width="1.1" stroke-dasharray="24 4.5 6.5 4.5 48 4.5 6.5 4.5 48 4.5 6.5 4.5 48 4.5 6.5 4.5 48 4.5 6.5 4.5 48 4.5 6.5 4.5"/>
<polyline points="655.00,202.30 676.50,140.90 666.30,140.90" fill="none" stroke="#111" stroke-width="1.2" stroke-linejoin="round" />
<path d="M655.00,202.30 L656.13,193.16 L659.81,194.45 Z" fill="#111" stroke="none"/>
<polyline points="724.40,287.80 754.80,319.20 768.80,319.20" fill="none" stroke="#111" stroke-width="1.2" stroke-linejoin="round" />
<path d="M724.40,287.80 L732.06,292.91 L729.26,295.62 Z" fill="#111" stroke="none"/>
<polyline points="743.20,339.20 766.00,361.50 777.50,361.50" fill="none" stroke="#111" stroke-width="1.2" stroke-linejoin="round" />
<path d="M743.20,339.20 L751.00,344.10 L748.27,346.89 Z" fill="#111" stroke="none"/>
<polyline points="593.70,375.50 614.60,456.30 628.30,456.30" fill="none" stroke="#111" stroke-width="1.2" stroke-linejoin="round" />
<path d="M593.70,375.50 L597.84,383.72 L594.07,384.70 Z" fill="#111" stroke="none"/>
<path d="M152.7,376.2 L179.4,376.2 L177.8,380.5 L154.3,380.5 Z" fill="#fff" stroke="#111" stroke-width="1.1" stroke-linejoin="round" />
<path d="M158.00,381.00 L132.17,432.84 Q128.60,440.00 125.98,447.56 L103.12,513.44 Q100.50,521.00 103.25,527.50 L103.25,527.50 Q106.00,534.00 113.97,534.72 L120.03,535.28 Q128.00,536.00 131.96,529.05 L147.40,501.90" fill="none" stroke="#222" stroke-width="4.0" stroke-linejoin="round"/>
<path d="M158.00,381.00 L132.17,432.84 Q128.60,440.00 125.98,447.56 L103.12,513.44 Q100.50,521.00 103.25,527.50 L103.25,527.50 Q106.00,534.00 113.97,534.72 L120.03,535.28 Q128.00,536.00 131.96,529.05 L147.40,501.90" fill="none" stroke="#fff" stroke-width="1.5" stroke-linejoin="round"/>
<path d="M161.00,381.00 L140.10,432.59 Q137.10,440.00 134.39,447.53 L111.31,511.47 Q108.60,519.00 110.80,522.50 L110.80,522.50 Q113.00,526.00 118.50,525.00 L118.50,525.00 Q124.00,524.00 125.66,516.17 L129.80,496.70" fill="none" stroke="#222" stroke-width="4.0" stroke-linejoin="round"/>
<path d="M161.00,381.00 L140.10,432.59 Q137.10,440.00 134.39,447.53 L111.31,511.47 Q108.60,519.00 110.80,522.50 L110.80,522.50 Q113.00,526.00 118.50,525.00 L118.50,525.00 Q124.00,524.00 125.66,516.17 L129.80,496.70" fill="none" stroke="#fff" stroke-width="1.5" stroke-linejoin="round"/>
<path d="M158.5,386 L132.8,440 L105,520" fill="none" stroke="#666" stroke-width="1.6" stroke-dasharray="1 1"/>
<path d="M164.00,381.00 L148.00,445.00 L145.20,449.60" fill="none" stroke="#222" stroke-width="4.0" stroke-linejoin="round"/>
<path d="M164.00,381.00 L148.00,445.00 L145.20,449.60" fill="none" stroke="#fff" stroke-width="1.5" stroke-linejoin="round"/>
<path d="M166.50,381.00 L165.50,445.00 L163.60,455.50" fill="none" stroke="#222" stroke-width="4.0" stroke-linejoin="round"/>
<path d="M166.50,381.00 L165.50,445.00 L163.60,455.50" fill="none" stroke="#fff" stroke-width="1.5" stroke-linejoin="round"/>
<g transform="translate(137.50,473.15) rotate(18.11)"><path d="M-4.5,-24.8 L4.5,-24.8 L4.5,-13.8 L6.8,-8.8 L6.8,7.8 L4.2,12.8 L4.2,24.8 L-4.2,24.8 L-4.2,12.8 L-6.8,7.8 L-6.8,-8.8 L-4.5,-13.8 Z" fill="#fff" stroke="#222" stroke-width="1.2" stroke-linejoin="round"/><path d="M-2.8,-22.8 L2.8,-22.8 M-2.8,-15.8 L2.8,-15.8 M-2.5,22.8 L2.5,22.8 M-2.5,14.8 L2.5,14.8 M-3,-20.8 L-3,-16.8 M3,-20.8 L3,-16.8 M-2.5,15.8 L-2.5,21.8 M2.5,15.8 L2.5,21.8 M-5,-6.8 Q-2,-9.8 -1,-2.8 M5,-6.8 Q2,-9.8 1,-2.8 M-5,0.2 Q-2,-2.8 -1,4.2 M5,0.2 Q2,-2.8 1,4.2" fill="none" stroke="#444" stroke-width="0.9"/></g>
<g transform="translate(155.50,478.70) rotate(19.25)"><path d="M-4.5,-24.6 L4.5,-24.6 L4.5,-13.6 L6.8,-8.6 L6.8,7.6 L4.2,12.6 L4.2,24.6 L-4.2,24.6 L-4.2,12.6 L-6.8,7.6 L-6.8,-8.6 L-4.5,-13.6 Z" fill="#fff" stroke="#222" stroke-width="1.2" stroke-linejoin="round"/><path d="M-2.8,-22.6 L2.8,-22.6 M-2.8,-15.6 L2.8,-15.6 M-2.5,22.6 L2.5,22.6 M-2.5,14.6 L2.5,14.6 M-3,-20.6 L-3,-16.6 M3,-20.6 L3,-16.6 M-2.5,15.6 L-2.5,21.6 M2.5,15.6 L2.5,21.6 M-5,-6.6 Q-2,-9.6 -1,-2.6 M5,-6.6 Q2,-9.6 1,-2.6 M-5,0.4 Q-2,-2.6 -1,4.4 M5,0.4 Q2,-2.6 1,4.4" fill="none" stroke="#444" stroke-width="0.9"/></g>
<path d="M168.00,381.00 L181.80,429.31 Q184.00,437.00 182.93,444.93 L180.50,463.00" fill="none" stroke="#222" stroke-width="4.0" stroke-linejoin="round"/>
<path d="M168.00,381.00 L181.80,429.31 Q184.00,437.00 182.93,444.93 L180.50,463.00" fill="none" stroke="#fff" stroke-width="1.5" stroke-linejoin="round"/>
<line x1="180.50" y1="463.00" x2="177.80" y2="489.50" stroke="#1a1a1a" stroke-width="3.4" />
<line x1="180.50" y1="463.00" x2="177.80" y2="489.50" stroke="#aaa" stroke-width="1.2" stroke-dasharray="1 3"/>
<path d="M170.00,381.00 L190.51,431.88 Q193.50,439.30 192.50,447.24 L190.50,463.00" fill="none" stroke="#222" stroke-width="4.0" stroke-linejoin="round"/>
<path d="M170.00,381.00 L190.51,431.88 Q193.50,439.30 192.50,447.24 L190.50,463.00" fill="none" stroke="#fff" stroke-width="1.5" stroke-linejoin="round"/>
<line x1="190.50" y1="463.00" x2="189.40" y2="489.50" stroke="#1a1a1a" stroke-width="3.4" />
<line x1="190.50" y1="463.00" x2="189.40" y2="489.50" stroke="#aaa" stroke-width="1.2" stroke-dasharray="1 3"/>
<path d="M172.00,381.00 L200.75,435.23 Q204.50,442.30 203.35,450.22 L201.50,463.00" fill="none" stroke="#222" stroke-width="4.0" stroke-linejoin="round"/>
<path d="M172.00,381.00 L200.75,435.23 Q204.50,442.30 203.35,450.22 L201.50,463.00" fill="none" stroke="#fff" stroke-width="1.5" stroke-linejoin="round"/>
<line x1="201.50" y1="463.00" x2="201.50" y2="490.00" stroke="#1a1a1a" stroke-width="3.4" />
<line x1="201.50" y1="463.00" x2="201.50" y2="490.00" stroke="#aaa" stroke-width="1.2" stroke-dasharray="1 3"/>
<path d="M174.00,381.00 L212.13,437.66 Q216.60,444.30 215.29,452.19 L213.50,463.00" fill="none" stroke="#222" stroke-width="4.0" stroke-linejoin="round"/>
<path d="M174.00,381.00 L212.13,437.66 Q216.60,444.30 215.29,452.19 L213.50,463.00" fill="none" stroke="#fff" stroke-width="1.5" stroke-linejoin="round"/>
<line x1="213.50" y1="463.00" x2="213.50" y2="490.00" stroke="#1a1a1a" stroke-width="3.4" />
<line x1="213.50" y1="463.00" x2="213.50" y2="490.00" stroke="#aaa" stroke-width="1.2" stroke-dasharray="1 3"/>
<path d="M176.00,381.00 L221.01,430.39 Q226.40,436.30 226.40,444.30 L226.40,490.00" fill="none" stroke="#222" stroke-width="4.0" stroke-linejoin="round"/>
<path d="M176.00,381.00 L221.01,430.39 Q226.40,436.30 226.40,444.30 L226.40,490.00" fill="none" stroke="#fff" stroke-width="1.5" stroke-linejoin="round"/>
<path d="M178.00,381.00 L239.34,435.96 Q245.30,441.30 245.30,449.30 L245.30,490.00" fill="none" stroke="#222" stroke-width="4.0" stroke-linejoin="round"/>
<path d="M178.00,381.00 L239.34,435.96 Q245.30,441.30 245.30,449.30 L245.30,490.00" fill="none" stroke="#fff" stroke-width="1.5" stroke-linejoin="round"/>
<rect x="222.9" y="489.2" width="6.7" height="14" fill="#fff" stroke="#222" stroke-width="1.2"/>
<rect x="223.9" y="491.5" width="4" height="4.5" fill="#222" stroke="none"/>
<line x1="226.30" y1="496.00" x2="226.30" y2="503.00" stroke="#333" stroke-width="1.0" />
<rect x="229.6" y="491.2" width="11.5" height="11.2" fill="#fff" stroke="#222" stroke-width="1.2"/>
<path d="M230.4,494.8 L240.4,494.2 M230.4,498.6 L240.4,499.4" fill="none" stroke="#222" stroke-width="1.1"/>
<rect x="242.0" y="490.0" width="6.7" height="14" fill="#fff" stroke="#222" stroke-width="1.2"/>
<rect x="243.0" y="492.3" width="4" height="4.5" fill="#222" stroke="none"/>
<line x1="245.40" y1="496.80" x2="245.40" y2="503.80" stroke="#333" stroke-width="1.0" />
<rect x="248.7" y="492.0" width="11.5" height="11.2" fill="#fff" stroke="#222" stroke-width="1.2"/>
<path d="M249.5,495.6 L259.5,495.0 M249.5,499.4 L259.5,500.2" fill="none" stroke="#222" stroke-width="1.1"/>
<path d="M239.50,342.50 L243.80,345.65 Q248.10,348.80 254.46,353.65 L264.54,361.35 Q270.90,366.20 278.30,369.24 L346.50,397.26 Q353.90,400.30 357.95,401.90 L362.00,403.50" fill="none" stroke="#222" stroke-width="4.4" stroke-linejoin="round"/>
<path d="M239.50,342.50 L243.80,345.65 Q248.10,348.80 254.46,353.65 L264.54,361.35 Q270.90,366.20 278.30,369.24 L346.50,397.26 Q353.90,400.30 357.95,401.90 L362.00,403.50" fill="none" stroke="#fff" stroke-width="1.8" stroke-linejoin="round"/>
<circle cx="235.40" cy="338.10" r="6.40" fill="#fff" stroke="#111" stroke-width="1.5" />
<circle cx="235.40" cy="338.10" r="3.40" fill="none" stroke="#111" stroke-width="1.3" />
<circle cx="367.90" cy="405.70" r="6.40" fill="#fff" stroke="#111" stroke-width="1.5" />
<circle cx="367.90" cy="405.70" r="3.40" fill="none" stroke="#111" stroke-width="1.3" />
<rect x="244.6" y="346.2" width="7" height="5.2" transform="rotate(37 248.1 348.8)" fill="#fff" stroke="#222" stroke-width="1"/>
<rect x="350.4" y="397.7" width="7" height="5.2" transform="rotate(22 353.9 400.3)" fill="#fff" stroke="#222" stroke-width="1"/>
<polyline points="152.70,378.90 133.90,389.40 124.80,389.40" fill="none" stroke="#111" stroke-width="1.1" stroke-linejoin="round" />
<path d="M152.70,378.90 L145.79,384.99 L143.89,381.59 Z" fill="#111" stroke="none"/>
<polyline points="315.70,382.90 243.00,58.60 271.00,58.60" fill="none" stroke="#111" stroke-width="1.1" stroke-linejoin="round" />
<path d="M315.70,382.90 L311.83,374.54 L315.63,373.69 Z" fill="#111" stroke="none"/>
<polyline points="179.00,185.60 191.90,111.90 180.30,111.90" fill="none" stroke="#111" stroke-width="1.1" stroke-linejoin="round" />
<path d="M179.00,185.60 L178.63,176.40 L182.47,177.07 Z" fill="#111" stroke="none"/>
<polyline points="248.90,454.70 281.00,432.20 294.40,432.20" fill="none" stroke="#111" stroke-width="1.1" stroke-linejoin="round" />
<path d="M248.90,454.70 L255.15,447.94 L257.39,451.13 Z" fill="#111" stroke="none"/>
<polyline points="234.10,503.50 234.70,538.20 252.90,538.20" fill="none" stroke="#111" stroke-width="1.1" stroke-linejoin="round" />
<path d="M234.10,503.50 L236.21,512.46 L232.31,512.53 Z" fill="#111" stroke="none"/>
<polyline points="178.90,478.20 145.80,581.80 164.00,581.80" fill="none" stroke="#111" stroke-width="1.1" stroke-linejoin="round" />
<path d="M178.90,478.20 L178.02,487.37 L174.30,486.18 Z" fill="#111" stroke="none"/>
<polyline points="99.40,526.80 68.50,625.00 86.00,625.00" fill="none" stroke="#111" stroke-width="1.1" stroke-linejoin="round" />
<path d="M99.40,526.80 L98.56,535.97 L94.84,534.80 Z" fill="#111" stroke="none"/>
<rect x="148.1" y="185.6" width="35.2" height="10.4" fill="none" stroke="#333" stroke-width="1" stroke-dasharray="4 3"/>
<line x1="884.10" y1="557.10" x2="944.40" y2="557.10" stroke="#111" stroke-width="1.3" />
<path d="M944.40,557.10 C945.40,551.50 950.51,551.00 953.51,553.40 Q956.88,549.50 960.26,553.40 Q963.63,549.50 967.01,553.40 C970.01,551.00 974.80,551.50 975.80,557.10" fill="none" stroke="#111" stroke-width="1.3"/>
<ellipse cx="953.51" cy="557.10" rx="2.2" ry="3.6" fill="none" stroke="#111" stroke-width="1.3"/>
<ellipse cx="960.26" cy="557.10" rx="2.2" ry="3.6" fill="none" stroke="#111" stroke-width="1.3"/>
<ellipse cx="967.01" cy="557.10" rx="2.2" ry="3.6" fill="none" stroke="#111" stroke-width="1.3"/>
<line x1="975.80" y1="557.10" x2="1054.10" y2="557.10" stroke="#111" stroke-width="1.3" />
<path d="M1054.10,557.10 C1055.10,551.50 1059.94,551.00 1062.94,553.40 Q1066.22,549.50 1069.50,553.40 Q1072.78,549.50 1076.06,553.40 C1079.06,551.00 1083.60,551.50 1084.60,557.10" fill="none" stroke="#111" stroke-width="1.3"/>
<ellipse cx="1062.94" cy="557.10" rx="2.2" ry="3.6" fill="none" stroke="#111" stroke-width="1.3"/>
<ellipse cx="1069.50" cy="557.10" rx="2.2" ry="3.6" fill="none" stroke="#111" stroke-width="1.3"/>
<ellipse cx="1076.06" cy="557.10" rx="2.2" ry="3.6" fill="none" stroke="#111" stroke-width="1.3"/>
<line x1="1084.60" y1="557.10" x2="1105.50" y2="557.10" stroke="#111" stroke-width="1.3" />
<line x1="1134.40" y1="557.10" x2="1155.30" y2="557.10" stroke="#111" stroke-width="1.3" />
<path d="M1155.30,557.10 C1156.30,551.50 1161.14,551.00 1164.14,553.40 Q1167.42,549.50 1170.70,553.40 Q1173.98,549.50 1177.26,553.40 C1180.26,551.00 1184.80,551.50 1185.80,557.10" fill="none" stroke="#111" stroke-width="1.3"/>
<ellipse cx="1164.14" cy="557.10" rx="2.2" ry="3.6" fill="none" stroke="#111" stroke-width="1.3"/>
<ellipse cx="1170.70" cy="557.10" rx="2.2" ry="3.6" fill="none" stroke="#111" stroke-width="1.3"/>
<ellipse cx="1177.26" cy="557.10" rx="2.2" ry="3.6" fill="none" stroke="#111" stroke-width="1.3"/>
<line x1="1185.80" y1="557.10" x2="1206.20" y2="557.10" stroke="#111" stroke-width="1.3" />
<line x1="979.70" y1="592.80" x2="993.70" y2="592.80" stroke="#111" stroke-width="1.3" />
<path d="M993.70,592.80 C994.70,587.20 999.66,586.70 1002.66,589.10 Q1005.98,585.20 1009.30,589.10 Q1012.63,585.20 1015.95,589.10 C1018.95,586.70 1023.60,587.20 1024.60,592.80" fill="none" stroke="#111" stroke-width="1.3"/>
<ellipse cx="1002.66" cy="592.80" rx="2.2" ry="3.6" fill="none" stroke="#111" stroke-width="1.3"/>
<ellipse cx="1009.30" cy="592.80" rx="2.2" ry="3.6" fill="none" stroke="#111" stroke-width="1.3"/>
<ellipse cx="1015.95" cy="592.80" rx="2.2" ry="3.6" fill="none" stroke="#111" stroke-width="1.3"/>
<line x1="1024.60" y1="592.80" x2="1039.60" y2="592.80" stroke="#111" stroke-width="1.3" />
<polyline points="884.60,557.10 884.60,688.40" fill="none" stroke="#111" stroke-width="1.3" stroke-linejoin="round" />
<polyline points="884.60,557.10 908.40,578.70 908.40,688.40" fill="none" stroke="#111" stroke-width="1.3" stroke-linejoin="round" />
<line x1="908.40" y1="688.40" x2="946.00" y2="688.40" stroke="#111" stroke-width="1.3" stroke-dasharray="5 5.5"/>
<line x1="925.00" y1="680.00" x2="925.00" y2="696.50" stroke="#111" stroke-width="1.1" stroke-dasharray="3.5 3"/>
<path d="M931,680.5 Q927,688.4 931,696" fill="none" stroke="#111" stroke-width="1.1" stroke-dasharray="3 3"/>
<polyline points="958.10,592.80 945.90,613.40 945.90,688.40" fill="none" stroke="#111" stroke-width="1.3" stroke-linejoin="round" />
<polyline points="958.10,592.80 958.10,688.40 979.70,688.40 979.70,650.90" fill="none" stroke="#111" stroke-width="1.3" stroke-linejoin="round" />
<line x1="979.70" y1="592.80" x2="979.70" y2="631.20" stroke="#111" stroke-width="1.3" />
<line x1="1039.60" y1="592.80" x2="1039.60" y2="631.20" stroke="#111" stroke-width="1.3" />
<rect x="974.35" y="631.2" width="10" height="6.6" fill="#fff" stroke="#111" stroke-width="1.2"/>
<rect x="974.35" y="644.3" width="10" height="6.6" fill="#fff" stroke="#111" stroke-width="1.2"/>
<rect x="1035.15" y="631.2" width="10" height="6.6" fill="#fff" stroke="#111" stroke-width="1.2"/>
<rect x="1035.15" y="644.3" width="10" height="6.6" fill="#fff" stroke="#111" stroke-width="1.2"/>
<polyline points="1039.60,650.90 1039.60,688.40 1051.40,688.40 1051.40,574.00 1037.90,574.00 1037.90,557.10" fill="none" stroke="#111" stroke-width="1.3" stroke-linejoin="round" />
<polyline points="1105.50,557.10 1105.50,594.10" fill="none" stroke="#111" stroke-width="1.3" stroke-linejoin="round" />
<rect x="1099.8" y="594.1" width="11.2" height="31.5" fill="#fff" stroke="#111" stroke-width="1.2"/>
<polyline points="1105.50,625.60 1105.50,688.40 1115.30,688.40" fill="none" stroke="#111" stroke-width="1.3" stroke-linejoin="round" />
<polyline points="1134.10,557.10 1134.10,688.40 1124.70,688.40" fill="none" stroke="#111" stroke-width="1.3" stroke-linejoin="round" />
<polyline points="1206.30,557.10 1206.30,688.40" fill="none" stroke="#111" stroke-width="1.3" stroke-linejoin="round" />
<circle cx="884.10" cy="557.10" r="2.60" fill="#111" stroke="#111" stroke-width="0" />
<circle cx="1037.90" cy="557.10" r="2.60" fill="#111" stroke="#111" stroke-width="0" />
<circle cx="1105.50" cy="557.10" r="2.60" fill="#111" stroke="#111" stroke-width="0" />
<circle cx="1134.40" cy="557.10" r="2.60" fill="#111" stroke="#111" stroke-width="0" />
<circle cx="1206.20" cy="557.10" r="2.60" fill="#111" stroke="#111" stroke-width="0" />
<circle cx="958.10" cy="592.80" r="2.60" fill="#111" stroke="#111" stroke-width="0" />
<circle cx="979.70" cy="592.80" r="2.60" fill="#111" stroke="#111" stroke-width="0" />
<circle cx="1039.60" cy="592.80" r="2.60" fill="#111" stroke="#111" stroke-width="0" />
<circle cx="1105.30" cy="645.90" r="2.60" fill="#111" stroke="#111" stroke-width="0" />
<line x1="996.10" y1="484.10" x2="1021.00" y2="484.10" stroke="#111" stroke-width="1.3" />
<line x1="1143.30" y1="496.50" x2="1163.30" y2="496.50" stroke="#111" stroke-width="1.3" />
<line x1="996.10" y1="484.10" x2="884.10" y2="557.10" stroke="#111" stroke-width="1.2" />
<path d="M890.91,550.15 L883.50,556.18 L884.70,558.02 L893.21,553.67 Z" fill="#111" stroke="#111" stroke-width="0.6" stroke-linejoin="round"/>
<line x1="996.10" y1="484.10" x2="958.10" y2="592.80" stroke="#111" stroke-width="1.2" />
<path d="M959.25,583.14 L957.06,592.44 L959.14,593.16 L963.22,584.53 Z" fill="#111" stroke="#111" stroke-width="0.6" stroke-linejoin="round"/>
<line x1="996.10" y1="484.10" x2="979.70" y2="592.80" stroke="#111" stroke-width="1.2" />
<path d="M979.04,583.09 L978.61,592.64 L980.79,592.96 L983.19,583.72 Z" fill="#111" stroke="#111" stroke-width="0.6" stroke-linejoin="round"/>
<line x1="996.10" y1="484.10" x2="1039.60" y2="592.80" stroke="#111" stroke-width="1.2" />
<path d="M1034.12,584.76 L1038.58,593.21 L1040.62,592.39 L1038.02,583.20 Z" fill="#111" stroke="#111" stroke-width="0.6" stroke-linejoin="round"/>
<line x1="1163.30" y1="496.50" x2="1105.50" y2="557.10" stroke="#111" stroke-width="1.2" />
<path d="M1110.54,548.78 L1104.70,556.34 L1106.30,557.86 L1113.58,551.67 Z" fill="#111" stroke="#111" stroke-width="0.6" stroke-linejoin="round"/>
<line x1="1163.30" y1="496.50" x2="1134.40" y2="557.10" stroke="#111" stroke-width="1.2" />
<path d="M1136.59,547.62 L1133.41,556.63 L1135.39,557.57 L1140.38,549.43 Z" fill="#111" stroke="#111" stroke-width="0.6" stroke-linejoin="round"/>
<line x1="1163.30" y1="496.50" x2="1206.20" y2="557.10" stroke="#111" stroke-width="1.2" />
<path d="M1199.00,550.56 L1205.30,557.74 L1207.10,556.46 L1202.42,548.13 Z" fill="#111" stroke="#111" stroke-width="0.6" stroke-linejoin="round"/>
<text x="1025.50" y="487.70" font-size="11.6" font-weight="normal" fill="#111" textLength="137.00" lengthAdjust="spacingAndGlyphs" >COIL END SLEEVING AT</text>
<text x="1025.50" y="499.90" font-size="11.6" font-weight="normal" fill="#111" textLength="115.30" lengthAdjust="spacingAndGlyphs" >THESE  LOCATIONS</text>
<text x="943.70" y="548.80" font-size="11.6" font-weight="normal" fill="#111" textLength="33.70" lengthAdjust="spacingAndGlyphs" >1/2 M1</text>
<text x="1053.30" y="548.80" font-size="11.6" font-weight="normal" fill="#111" textLength="33.70" lengthAdjust="spacingAndGlyphs" >1/2 M1</text>
<text x="1162.00" y="548.80" font-size="11.6" font-weight="normal" fill="#111" textLength="15.80" lengthAdjust="spacingAndGlyphs" >M2</text>
<text x="995.60" y="584.90" font-size="11.6" font-weight="normal" fill="#111" textLength="27.20" lengthAdjust="spacingAndGlyphs" >AUX.</text>
<text x="917.70" y="679.30" font-size="11.6" font-weight="normal" fill="#111" textLength="24.10" lengthAdjust="spacingAndGlyphs" >CAP</text>
<text transform="translate(882.80,683.70) rotate(-90)" x="0" y="0" font-size="11.6" font-weight="normal" fill="#111" textLength="37.50" lengthAdjust="spacingAndGlyphs">WHITE</text>
<text transform="translate(905.60,686.00) rotate(-90)" x="0" y="0" font-size="11.6" font-weight="normal" fill="#111" textLength="44.50" lengthAdjust="spacingAndGlyphs">BROWN</text>
<text transform="translate(944.00,659.30) rotate(-90)" x="0" y="0" font-size="11.6" font-weight="normal" fill="#111" textLength="43.10" lengthAdjust="spacingAndGlyphs">BROWN</text>
<text transform="translate(977.80,625.60) rotate(-90)" x="0" y="0" font-size="11.6" font-weight="normal" fill="#111" textLength="25.30" lengthAdjust="spacingAndGlyphs">ORG</text>
<text transform="translate(991.80,687.50) rotate(-90)" x="0" y="0" font-size="11.6" font-weight="normal" fill="#111" textLength="26.30" lengthAdjust="spacingAndGlyphs">ORG</text>
<text transform="translate(1037.40,624.70) rotate(-90)" x="0" y="0" font-size="11.6" font-weight="normal" fill="#111" textLength="20.70" lengthAdjust="spacingAndGlyphs">YEL</text>
<text transform="translate(1063.00,687.50) rotate(-90)" x="0" y="0" font-size="11.6" font-weight="normal" fill="#111" textLength="21.00" lengthAdjust="spacingAndGlyphs">YEL</text>
<text transform="translate(1103.10,685.60) rotate(-90)" x="0" y="0" font-size="11.6" font-weight="normal" fill="#111" textLength="20.60" lengthAdjust="spacingAndGlyphs">BLK</text>
<text transform="translate(1132.20,684.70) rotate(-90)" x="0" y="0" font-size="11.6" font-weight="normal" fill="#111" textLength="30.00" lengthAdjust="spacingAndGlyphs">BLUE</text>
<text transform="translate(1204.40,686.00) rotate(-90)" x="0" y="0" font-size="11.6" font-weight="normal" fill="#111" textLength="23.20" lengthAdjust="spacingAndGlyphs">RED</text>
<text transform="translate(1109.50,622.50) rotate(-90)" x="0" y="0" font-size="10" font-weight="normal" fill="#111" textLength="25.00" lengthAdjust="spacingAndGlyphs">PROT</text>
<line x1="995.60" y1="106.70" x2="995.60" y2="267.00" stroke="#111" stroke-width="1.2" />
<line x1="1212.80" y1="106.70" x2="1212.80" y2="267.00" stroke="#111" stroke-width="1.2" />
<line x1="1004.80" y1="136.00" x2="1004.80" y2="228.00" stroke="#111" stroke-width="1.2" />
<line x1="1203.60" y1="136.00" x2="1203.60" y2="228.00" stroke="#111" stroke-width="1.2" />
<line x1="995.60" y1="111.60" x2="1083.50" y2="111.60" stroke="#111" stroke-width="1.2" />
<line x1="1125.00" y1="111.60" x2="1212.80" y2="111.60" stroke="#111" stroke-width="1.2" />
<path d="M995.60,111.60 L1004.60,109.65 L1004.60,113.55 Z" fill="#111" stroke="none"/>
<path d="M1212.80,111.60 L1203.80,113.55 L1203.80,109.65 Z" fill="#111" stroke="none"/>
<line x1="1004.80" y1="140.50" x2="1083.50" y2="140.50" stroke="#111" stroke-width="1.2" />
<line x1="1125.00" y1="140.50" x2="1203.60" y2="140.50" stroke="#111" stroke-width="1.2" />
<path d="M1004.80,140.50 L1013.80,138.55 L1013.80,142.45 Z" fill="#111" stroke="none"/>
<path d="M1203.60,140.50 L1194.60,142.45 L1194.60,138.55 Z" fill="#111" stroke="none"/>
</svg></body></html>
